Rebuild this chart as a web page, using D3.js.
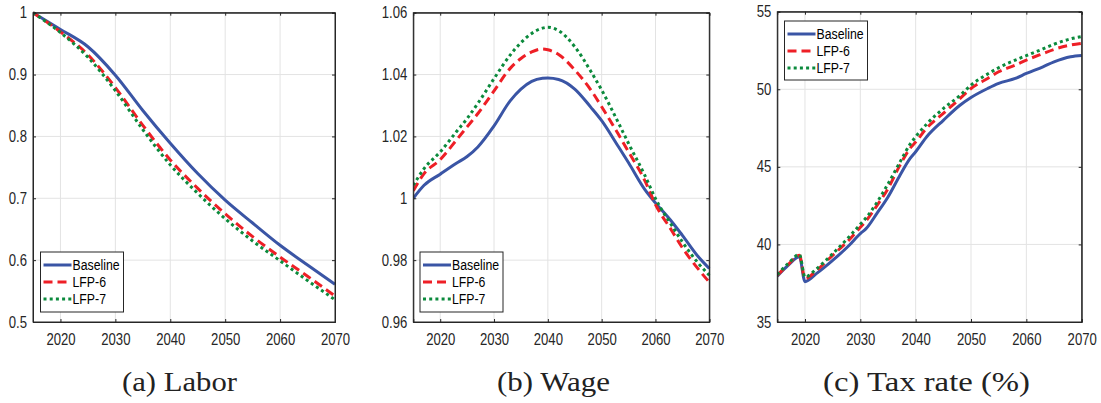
<!DOCTYPE html>
<html><head><meta charset="utf-8">
<script src="https://cdn.jsdelivr.net/npm/d3@7"></script>
<style>
body{margin:0;background:#fff;}
svg{display:block;}
.tick-lab{font-family:"Liberation Sans Narrow","Arial Narrow","Liberation Sans",sans-serif;font-size:16px;fill:#262626;}
.leg{font-family:"Liberation Sans Narrow","Arial Narrow","Liberation Sans",sans-serif;font-size:15px;fill:#000;}
.cap{font-family:"Liberation Serif","DejaVu Serif",serif;font-size:27px;fill:#222;}
</style></head>
<body>
<svg id="c" width="1101" height="403"></svg>
<script>
// ---------- data ----------
const seriesNames = ["Baseline","LFP-6","LFP-7"];
const xTicks = [2020,2030,2040,2050,2060,2070];

const laborYears = [2015,2020,2025,2030,2035,2040,2045,2050,2055,2060,2065,2070];
const laborBaseline = [1.0,0.973,0.945,0.899,0.842,0.789,0.740,0.697,0.660,0.624,0.592,0.561];
const laborLFP6     = [1.0,0.969,0.932,0.879,0.818,0.762,0.716,0.675,0.638,0.605,0.574,0.542];
const laborLFP7     = [1.0,0.968,0.928,0.874,0.811,0.754,0.708,0.667,0.631,0.599,0.567,0.536];
const laborTicks = [0.5,0.6,0.7,0.8,0.9,1];

const wageYears = [2015,2017,2020,2023,2025,2027,2030,2033,2035,2037,2039,2040,2042,2045,2048,2050,2053,2055,2058,2060,2063,2065,2068,2070];
const wageBaseline = [1.0,1.0042,1.0078,1.0113,1.0135,1.0166,1.0234,1.0315,1.0353,1.0378,1.0388,1.0389,1.0384,1.0353,1.0294,1.0251,1.017,1.0115,1.0029,0.9985,0.9925,0.988,0.981,0.9773];
const wageLFP6     = [1.0024,1.008,1.0125,1.0188,1.0231,1.0274,1.0347,1.042,1.0452,1.0473,1.0483,1.048,1.0465,1.0415,1.035,1.0296,1.021,1.015,1.0058,0.998,0.9896,0.984,0.977,0.9729];
const wageLFP7     = [1.0042,1.0096,1.015,1.0215,1.0258,1.0307,1.0387,1.0463,1.0503,1.0533,1.055,1.0553,1.0542,1.049,1.041,1.035,1.0248,1.0177,1.0075,0.9999,0.9913,0.9859,0.9789,0.9751];
const wageTicks = [0.96,0.98,1,1.02,1.04,1.06];

const taxYears = [2015,2017,2019,2020,2022,2025,2028,2030,2031,2033,2035,2037,2039,2040,2042,2045,2048,2050,2053,2055,2058,2060,2063,2065,2068,2070];
const taxBaseline = [37.95,38.66,39.2,37.6,38.1,38.97,39.95,40.7,41.0,42.0,43.06,44.35,45.54,45.97,46.94,48.0,48.97,49.47,50.05,50.38,50.7,51.02,51.45,51.77,52.1,52.18];
const taxLFP6     = [38.0,38.72,39.3,37.8,38.3,39.3,40.3,41.1,41.5,42.5,43.6,45.0,46.2,46.6,47.5,48.45,49.4,50.05,50.7,51.13,51.56,51.88,52.3,52.57,52.85,52.96];
const taxLFP7     = [38.05,38.78,39.35,37.9,38.4,39.4,40.5,41.3,41.7,42.7,43.9,45.2,46.46,46.94,47.76,48.76,49.6,50.27,50.98,51.39,51.88,52.17,52.6,52.9,53.25,53.4];
const taxTicks = [35,40,45,50,55];

const captions = ["(a) Labor","(b) Wage","(c) Tax rate (%)"];

// ---------- styles ----------
const colors = ["#3a55a5","#ee1f26","#0b8a3c"];
const dashes = [null,"9,5","3,3.2"];

const panels = [
  {x0:33,x1:335,y0:12.7,y1:322,dom:[0.5,1],ticks:laborTicks,fmt:d=>d===1?"1":d3.format(".1f")(d),
   years:laborYears,vals:[laborBaseline,laborLFP6,laborLFP7],leg:[40.5,252,83,60],cap:captions[0],capX:179.5,capW:115},
  {x0:413.3,x1:709.3,y0:12.7,y1:322,dom:[0.96,1.06],ticks:wageTicks,fmt:d=>d===1?"1":d3.format(".2f")(d),
   years:wageYears,vals:[wageBaseline,wageLFP6,wageLFP7],leg:[420,252,83,60],cap:captions[1],capX:553.5,capW:113},
  {x0:777.3,x1:1081.7,y0:11.7,y1:322,dom:[35,55],ticks:taxTicks,fmt:d=>String(d),
   years:taxYears,vals:[taxBaseline,taxLFP6,taxLFP7],leg:[784.5,21,83,59],cap:captions[2],capX:926.5,capW:207}
];

const svg = d3.select("#c");
// horizontally condense a text around its anchor point
const condense = (sel, f=0.82) => sel.each(function(){
  const t = d3.select(this);
  const bb = this.getBBox();
  const anchor = t.attr("text-anchor") || window.getComputedStyle(this).textAnchor || "start";
  let ax;
  if (anchor==="middle") ax = bb.x+bb.width/2;
  else if (anchor==="end") ax = bb.x+bb.width;
  else ax = bb.x;
  const prev = t.attr("transform") || "";
  t.attr("transform", `${prev} translate(${ax},0) scale(${f},1) translate(${-ax},0)`);
});

panels.forEach(p=>{
  const x = d3.scaleLinear().domain([2015,2070]).range([p.x0,p.x1]);
  const y = d3.scaleLinear().domain(p.dom).range([p.y1,p.y0]);
  const g = svg.append("g");
  // grid
  g.selectAll(".gx").data(xTicks.filter(t=>t<2070)).join("line")
    .attr("x1",d=>x(d)).attr("x2",d=>x(d)).attr("y1",p.y0).attr("y2",p.y1)
    .attr("stroke","#e3e3e3").attr("stroke-width",1);
  g.selectAll(".gy").data(p.ticks.filter((t,i)=>i>0&&i<p.ticks.length-1)).join("line")
    .attr("x1",p.x0).attr("x2",p.x1).attr("y1",d=>y(d)).attr("y2",d=>y(d))
    .attr("stroke","#e3e3e3").attr("stroke-width",1);
  // lines
  const line = d3.line().x((d,i)=>x(p.years[i])).y(d=>y(d)).curve(d3.curveMonotoneX);
  const clipId = "clip"+Math.round(p.x0);
  svg.append("clipPath").attr("id",clipId).append("rect")
    .attr("x",p.x0).attr("y",p.y0-2).attr("width",p.x1-p.x0+2).attr("height",p.y1-p.y0+4);
  p.vals.forEach((v,k)=>{
    g.append("path").datum(v).attr("d",line).attr("fill","none")
      .attr("stroke",colors[k]).attr("stroke-width",3)
      .attr("stroke-dasharray",dashes[k]).attr("clip-path",`url(#${clipId})`);
  });
  // box
  g.append("rect").attr("x",p.x0).attr("y",p.y0).attr("width",p.x1-p.x0).attr("height",p.y1-p.y0)
    .attr("fill","none").attr("stroke","#262626").attr("stroke-width",1);
  // axes via d3 (inner ticks)
  const ax = g.append("g").attr("transform",`translate(0,${p.y1})`)
    .call(d3.axisBottom(x).tickValues(xTicks).tickSize(-3).tickPadding(9).tickFormat(d3.format("d")));
  const ay = g.append("g").attr("transform",`translate(${p.x0},0)`)
    .call(d3.axisLeft(y).tickValues(p.ticks).tickSize(-3).tickPadding(6).tickFormat(p.fmt));
  const axT = g.append("g").attr("transform",`translate(0,${p.y0})`)
    .call(d3.axisTop(x).tickValues(xTicks).tickSize(-3).tickFormat(""));
  const ayR = g.append("g").attr("transform",`translate(${p.x1},0)`)
    .call(d3.axisRight(y).tickValues(p.ticks).tickSize(-3).tickFormat(""));
  [ax,ay,axT,ayR].forEach(a=>{
    a.select(".domain").attr("stroke","#262626");
    a.selectAll(".tick line").attr("stroke","#262626");
    a.selectAll("text").attr("class","tick-lab").attr("fill",null);
  });
  ax.selectAll("text").attr("dy","0.9em");
  ax.selectAll("text").call(condense);
  ay.selectAll("text").call(condense);
  // legend
  const [lx,ly,lw,lh] = p.leg;
  const lg = g.append("g");
  lg.append("rect").attr("x",lx).attr("y",ly).attr("width",lw).attr("height",lh)
    .attr("fill","#fff").attr("stroke","#262626").attr("stroke-width",1);
  seriesNames.forEach((n,k)=>{
    const yy = ly+13+k*17;
    lg.append("line").attr("x1",lx+3).attr("x2",lx+31).attr("y1",yy).attr("y2",yy)
      .attr("stroke",colors[k]).attr("stroke-width",3).attr("stroke-dasharray",dashes[k]);
    lg.append("text").attr("class","leg").attr("x",lx+32).attr("y",yy+5.5).text(n).call(condense);
  });
  // caption: stretched horizontally to the reference width
  const cap = svg.append("text").attr("class","cap").attr("x",0).attr("y",0)
    .attr("text-anchor","middle").text(p.cap);
  const w = cap.node().getComputedTextLength();
  cap.attr("transform",`translate(${p.capX},391) scale(${p.capW/w},1)`);
});
</script>
</body></html>
